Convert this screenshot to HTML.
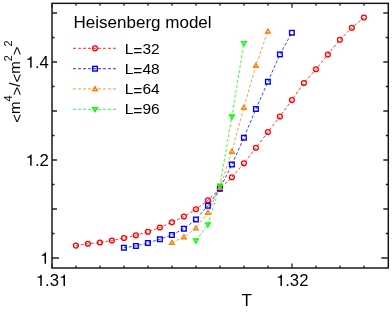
<!DOCTYPE html>
<html><head><meta charset="utf-8"><title>Heisenberg model</title>
<style>
html,body{margin:0;padding:0;background:#fff;}
svg{display:block;will-change:transform;}
text{font-family:"Liberation Sans",sans-serif;fill:#000;}
</style></head><body>
<svg width="392" height="314" viewBox="0 0 392 314">
<rect x="0" y="0" width="392" height="314" fill="#fff"/>
<polyline points="75.90,245.60 87.90,243.75 99.90,242.50 111.90,240.50 123.90,238.00 135.90,235.25 147.90,231.75 159.90,227.50 171.90,222.25 183.90,216.50 195.90,209.25 207.90,200.25 219.90,188.75 231.90,177.25 243.90,163.30 255.90,147.75 267.90,132.00 279.90,116.50 291.90,100.10 303.90,83.00 315.90,69.25 327.90,54.50 339.90,39.75 351.90,27.75 363.90,17.50" fill="none" stroke="#ff0000" stroke-width="0.75" stroke-dasharray="3 2"/>
<polyline points="123.90,247.75 135.90,246.00 147.90,243.00 159.90,239.25 171.90,235.00 183.90,228.75 195.90,219.50 207.90,205.75 219.90,188.65 231.90,164.50 243.90,137.75 255.90,109.00 267.90,81.75 279.90,54.40 291.90,32.75" fill="none" stroke="#0000ff" stroke-width="0.75" stroke-dasharray="3 2"/>
<polyline points="171.90,242.50 183.90,237.00 195.90,228.00 207.90,212.50 219.90,187.50 231.90,151.50 243.90,107.50 255.90,65.50 267.90,31.25" fill="none" stroke="#ff7f00" stroke-width="0.75" stroke-dasharray="3 2"/>
<polyline points="195.90,240.65 207.90,224.50 219.90,185.90 231.90,116.60 243.90,43.20" fill="none" stroke="#00ff00" stroke-width="0.75" stroke-dasharray="3 2"/>
<circle cx="75.90" cy="245.60" r="2.45" fill="none" stroke="#ff0000" stroke-width="1.3"/>
<circle cx="87.90" cy="243.75" r="2.45" fill="none" stroke="#ff0000" stroke-width="1.3"/>
<circle cx="99.90" cy="242.50" r="2.45" fill="none" stroke="#ff0000" stroke-width="1.3"/>
<circle cx="111.90" cy="240.50" r="2.45" fill="none" stroke="#ff0000" stroke-width="1.3"/>
<circle cx="123.90" cy="238.00" r="2.45" fill="none" stroke="#ff0000" stroke-width="1.3"/>
<circle cx="135.90" cy="235.25" r="2.45" fill="none" stroke="#ff0000" stroke-width="1.3"/>
<circle cx="147.90" cy="231.75" r="2.45" fill="none" stroke="#ff0000" stroke-width="1.3"/>
<circle cx="159.90" cy="227.50" r="2.45" fill="none" stroke="#ff0000" stroke-width="1.3"/>
<circle cx="171.90" cy="222.25" r="2.45" fill="none" stroke="#ff0000" stroke-width="1.3"/>
<circle cx="183.90" cy="216.50" r="2.45" fill="none" stroke="#ff0000" stroke-width="1.3"/>
<circle cx="195.90" cy="209.25" r="2.45" fill="none" stroke="#ff0000" stroke-width="1.3"/>
<circle cx="207.90" cy="200.25" r="2.45" fill="none" stroke="#ff0000" stroke-width="1.3"/>
<circle cx="219.90" cy="188.75" r="2.45" fill="none" stroke="#ff0000" stroke-width="1.3"/>
<circle cx="231.90" cy="177.25" r="2.45" fill="none" stroke="#ff0000" stroke-width="1.3"/>
<circle cx="243.90" cy="163.30" r="2.45" fill="none" stroke="#ff0000" stroke-width="1.3"/>
<circle cx="255.90" cy="147.75" r="2.45" fill="none" stroke="#ff0000" stroke-width="1.3"/>
<circle cx="267.90" cy="132.00" r="2.45" fill="none" stroke="#ff0000" stroke-width="1.3"/>
<circle cx="279.90" cy="116.50" r="2.45" fill="none" stroke="#ff0000" stroke-width="1.3"/>
<circle cx="291.90" cy="100.10" r="2.45" fill="none" stroke="#ff0000" stroke-width="1.3"/>
<circle cx="303.90" cy="83.00" r="2.45" fill="none" stroke="#ff0000" stroke-width="1.3"/>
<circle cx="315.90" cy="69.25" r="2.45" fill="none" stroke="#ff0000" stroke-width="1.3"/>
<circle cx="327.90" cy="54.50" r="2.45" fill="none" stroke="#ff0000" stroke-width="1.3"/>
<circle cx="339.90" cy="39.75" r="2.45" fill="none" stroke="#ff0000" stroke-width="1.3"/>
<circle cx="351.90" cy="27.75" r="2.45" fill="none" stroke="#ff0000" stroke-width="1.3"/>
<circle cx="363.90" cy="17.50" r="2.45" fill="none" stroke="#ff0000" stroke-width="1.3"/>
<rect x="121.60" y="245.45" width="4.60" height="4.60" fill="none" stroke="#0000ff" stroke-width="1.4"/>
<rect x="133.60" y="243.70" width="4.60" height="4.60" fill="none" stroke="#0000ff" stroke-width="1.4"/>
<rect x="145.60" y="240.70" width="4.60" height="4.60" fill="none" stroke="#0000ff" stroke-width="1.4"/>
<rect x="157.60" y="236.95" width="4.60" height="4.60" fill="none" stroke="#0000ff" stroke-width="1.4"/>
<rect x="169.60" y="232.70" width="4.60" height="4.60" fill="none" stroke="#0000ff" stroke-width="1.4"/>
<rect x="181.60" y="226.45" width="4.60" height="4.60" fill="none" stroke="#0000ff" stroke-width="1.4"/>
<rect x="193.60" y="217.20" width="4.60" height="4.60" fill="none" stroke="#0000ff" stroke-width="1.4"/>
<rect x="205.60" y="203.45" width="4.60" height="4.60" fill="none" stroke="#0000ff" stroke-width="1.4"/>
<rect x="217.60" y="186.35" width="4.60" height="4.60" fill="none" stroke="#0000ff" stroke-width="1.4"/>
<rect x="229.60" y="162.20" width="4.60" height="4.60" fill="none" stroke="#0000ff" stroke-width="1.4"/>
<rect x="241.60" y="135.45" width="4.60" height="4.60" fill="none" stroke="#0000ff" stroke-width="1.4"/>
<rect x="253.60" y="106.70" width="4.60" height="4.60" fill="none" stroke="#0000ff" stroke-width="1.4"/>
<rect x="265.60" y="79.45" width="4.60" height="4.60" fill="none" stroke="#0000ff" stroke-width="1.4"/>
<rect x="277.60" y="52.10" width="4.60" height="4.60" fill="none" stroke="#0000ff" stroke-width="1.4"/>
<rect x="289.60" y="30.45" width="4.60" height="4.60" fill="none" stroke="#0000ff" stroke-width="1.4"/>
<path d="M169.60 244.20L174.20 244.20L171.90 240.30Z" fill="none" stroke="#ff7f00" stroke-width="1.4"/>
<path d="M181.60 238.70L186.20 238.70L183.90 234.80Z" fill="none" stroke="#ff7f00" stroke-width="1.4"/>
<path d="M193.60 229.70L198.20 229.70L195.90 225.80Z" fill="none" stroke="#ff7f00" stroke-width="1.4"/>
<path d="M205.60 214.20L210.20 214.20L207.90 210.30Z" fill="none" stroke="#ff7f00" stroke-width="1.4"/>
<path d="M217.60 189.20L222.20 189.20L219.90 185.30Z" fill="none" stroke="#ff7f00" stroke-width="1.4"/>
<path d="M229.60 153.20L234.20 153.20L231.90 149.30Z" fill="none" stroke="#ff7f00" stroke-width="1.4"/>
<path d="M241.60 109.20L246.20 109.20L243.90 105.30Z" fill="none" stroke="#ff7f00" stroke-width="1.4"/>
<path d="M253.60 67.20L258.20 67.20L255.90 63.30Z" fill="none" stroke="#ff7f00" stroke-width="1.4"/>
<path d="M265.60 32.95L270.20 32.95L267.90 29.05Z" fill="none" stroke="#ff7f00" stroke-width="1.4"/>
<path d="M193.60 239.05L198.20 239.05L195.90 243.05Z" fill="none" stroke="#00ff00" stroke-width="1.4"/>
<path d="M205.60 222.90L210.20 222.90L207.90 226.90Z" fill="none" stroke="#00ff00" stroke-width="1.4"/>
<path d="M217.60 184.30L222.20 184.30L219.90 188.30Z" fill="none" stroke="#00ff00" stroke-width="1.4"/>
<path d="M229.60 115.00L234.20 115.00L231.90 119.00Z" fill="none" stroke="#00ff00" stroke-width="1.4"/>
<path d="M241.60 41.60L246.20 41.60L243.90 45.60Z" fill="none" stroke="#00ff00" stroke-width="1.4"/>
<rect x="52.0" y="3.35" width="336.3" height="264.65" fill="none" stroke="#111" stroke-width="1.45"/>
<path d="M52 268.0v-4.5M52 3.35v4.5M76 268.0v-2.5M76 3.35v2.5M100 268.0v-2.5M100 3.35v2.5M124 268.0v-2.5M124 3.35v2.5M148 268.0v-2.5M148 3.35v2.5M172 268.0v-2.5M172 3.35v2.5M196 268.0v-2.5M196 3.35v2.5M220 268.0v-2.5M220 3.35v2.5M244 268.0v-2.5M244 3.35v2.5M268 268.0v-2.5M268 3.35v2.5M292 268.0v-4.5M292 3.35v4.5M316 268.0v-2.5M316 3.35v2.5M340 268.0v-2.5M340 3.35v2.5M364 268.0v-2.5M364 3.35v2.5M52.0 258.00h7M388.3 258.00h-7M52.0 233.50h2.5M388.3 233.50h-2.5M52.0 209.00h5M388.3 209.00h-5M52.0 184.50h2.5M388.3 184.50h-2.5M52.0 160.00h5M388.3 160.00h-5M52.0 135.50h2.5M388.3 135.50h-2.5M52.0 111.00h5M388.3 111.00h-5M52.0 86.50h2.5M388.3 86.50h-2.5M52.0 62.00h5M388.3 62.00h-5M52.0 37.50h2.5M388.3 37.50h-2.5M52.0 13.00h5M388.3 13.00h-5" fill="none" stroke="#222" stroke-width="1.3"/>
<g font-size="16">
<g transform="translate(52,0) scale(1.045,1) translate(-52,0)"><path d="M42.18 285.90L40.77 285.90L40.77 277.82L38.05 277.82L38.05 276.81C39.87 276.65 40.62 275.98 41.07 274.65L42.18 274.65Z" fill="#000"/><text x="45.33" y="285.9">.3</text><path d="M64.42 285.90L63.01 285.90L63.01 277.82L60.29 277.82L60.29 276.81C62.11 276.65 62.86 275.98 63.31 274.65L64.42 274.65Z" fill="#000"/></g>
<g transform="translate(292.2,0) scale(1.045,1) translate(-292.2,0)"><path d="M282.38 285.90L280.97 285.90L280.97 277.82L278.25 277.82L278.25 276.81C280.07 276.65 280.82 275.98 281.27 274.65L282.38 274.65Z" fill="#000"/><text x="285.53" y="285.9">.32</text></g>
<g transform="translate(46.0,0) scale(1.045,1) translate(-46.0,0)"><path d="M46.04 263.80L44.64 263.80L44.64 255.72L41.92 255.72L41.92 254.71C43.74 254.55 44.49 253.88 44.94 252.55L46.04 252.55Z" fill="#000"/></g>
<g transform="translate(48.9,0) scale(1.045,1) translate(-48.9,0)"><path d="M32.40 165.80L31.00 165.80L31.00 157.72L28.28 157.72L28.28 156.71C30.10 156.55 30.85 155.88 31.30 154.55L32.40 154.55Z" fill="#000"/><text x="35.56" y="165.8">.2</text></g>
<g transform="translate(48.9,0) scale(1.045,1) translate(-48.9,0)"><path d="M32.40 67.80L31.00 67.80L31.00 59.72L28.28 59.72L28.28 58.71C30.10 58.55 30.85 57.88 31.30 56.55L32.40 56.55Z" fill="#000"/><text x="35.56" y="67.8">.4</text></g>
<text x="246.8" y="306.1" text-anchor="middle" font-size="17">T</text>
</g>
<g transform="translate(20.4,122.7) rotate(-90)"><text x="0" y="0" font-size="15"><tspan dy="1.3">&lt;</tspan><tspan dy="-1.3">m</tspan><tspan font-size="10.8" dy="-8.4">4</tspan><tspan dy="9.700000000000001">&gt;</tspan><tspan dy="-1.3">/</tspan><tspan dy="1.3">&lt;</tspan><tspan dy="-1.3">m</tspan><tspan font-size="10.8" dy="-8.4">2</tspan><tspan dy="9.700000000000001">&gt;</tspan><tspan font-size="10.8" dy="-9.700000000000001">2</tspan></text></g>
<text x="73.6" y="27.5" font-size="17">Heisenberg model</text>
<path d="M73 48.3H116" stroke="#ff0000" stroke-width="0.8" stroke-dasharray="3 2" fill="none"/>
<circle cx="95.00" cy="48.30" r="2.45" fill="none" stroke="#ff0000" stroke-width="1.3"/>
<text x="124.7" y="53.90" font-size="15.5">L<tspan dy="1.6">=</tspan><tspan dy="-1.6">32</tspan></text>
<path d="M73 68.7H116" stroke="#0000ff" stroke-width="0.8" stroke-dasharray="3 2" fill="none"/>
<rect x="92.70" y="66.40" width="4.60" height="4.60" fill="none" stroke="#0000ff" stroke-width="1.4"/>
<text x="124.7" y="74.30" font-size="15.5">L<tspan dy="1.6">=</tspan><tspan dy="-1.6">48</tspan></text>
<path d="M73 88.9H116" stroke="#ff7f00" stroke-width="0.8" stroke-dasharray="3 2" fill="none"/>
<path d="M92.70 90.60L97.30 90.60L95.00 86.70Z" fill="none" stroke="#ff7f00" stroke-width="1.4"/>
<text x="124.7" y="94.05" font-size="15.5">L<tspan dy="1.6">=</tspan><tspan dy="-1.6">64</tspan></text>
<path d="M73 109.3H116" stroke="#00ff00" stroke-width="0.8" stroke-dasharray="3 2" fill="none"/>
<path d="M92.70 107.70L97.30 107.70L95.00 111.70Z" fill="none" stroke="#00ff00" stroke-width="1.4"/>
<text x="124.7" y="114.40" font-size="15.5">L<tspan dy="1.6">=</tspan><tspan dy="-1.6">96</tspan></text>
</svg></body></html>
